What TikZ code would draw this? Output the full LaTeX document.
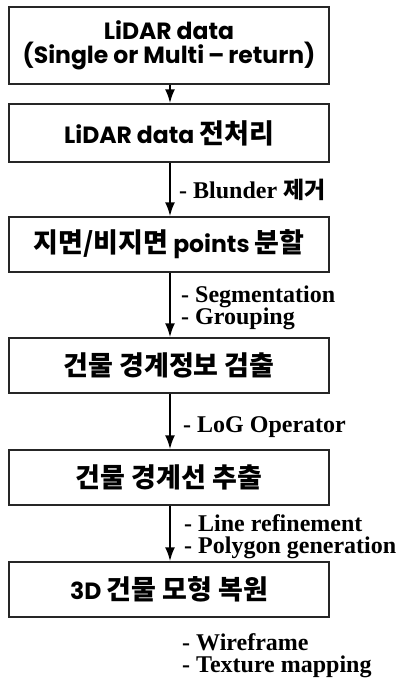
\documentclass[tikz,border=0pt]{standalone}
\usepackage{fontspec}
\usetikzlibrary{arrows.meta}
\newfontfamily\boxfont{Poppins}
\newfontfamily\krfont{Noto Sans CJK KR}
\newfontfamily\labfont{Liberation Serif}
\newcommand{\KR}[1]{{\krfont\bfseries\fontsize{27}{30}\selectfont #1}}
\tikzset{
  stepbox/.style={draw=black!85, line width=1.3pt, minimum width=320pt, inner sep=0pt,
    font=\boxfont\bfseries\fontsize{23.5}{27}\selectfont, align=center},
  flow/.style={line width=2.2pt, -{Latex[length=14pt,width=10pt]}},
  lab/.style={anchor=base west, inner sep=0pt, font=\labfont\bfseries\fontsize{24}{22}\selectfont, align=left}
}
\begin{document}
\begin{tikzpicture}[x=1pt,y=1pt]
\useasboundingbox (0,0) rectangle (398,-688);
\node[stepbox, minimum height=77pt] (b1) at (169,-45.5) {LiDAR data\\[-3pt](Single or Multi\,\textendash\,return)};
\node[stepbox, minimum height=58pt] (b2) at (169,-133) {LiDAR data \KR{전처리}};
\node[stepbox, minimum height=55pt] (b3) at (169,-244.5) {\KR{지면/비지면} points \KR{분할}};
\node[stepbox, minimum height=55pt] (b4) at (169,-365.5) {\KR{건물 경계정보 검출}};
\node[stepbox, minimum height=55pt] (b5) at (169,-477.5) {\KR{건물 경계선 추출}};
\node[stepbox, minimum height=55pt] (b6) at (169,-589.5) {3D \KR{건물 모형 복원}};
\draw[flow] (b1.south -| 170,0) -- (b2.north -| 170,0);
\draw[flow] (b2.south -| 170,0) -- (b3.north -| 170,0);
\draw[flow] (b3.south -| 170,0) -- (b4.north -| 170,0);
\draw[flow] (b4.south -| 170,0) -- (b5.north -| 170,0);
\draw[flow] (b5.south -| 170,0) -- (b6.north -| 170,0);
\node[lab] (l1) at (179,-198) {- Blunder {\krfont\bfseries\fontsize{23}{22}\selectfont 제거}};
\node[lab] (l2) at (181,-324) {- Segmentation\\- Grouping};
\node[lab] (l4) at (183,-432) {- LoG Operator};
\node[lab] (l5) at (184,-553) {- Line refinement\\- Polygon generation};
\node[lab] (l7) at (182,-672) {- Wireframe\\- Texture mapping};
\end{tikzpicture}
\end{document}
